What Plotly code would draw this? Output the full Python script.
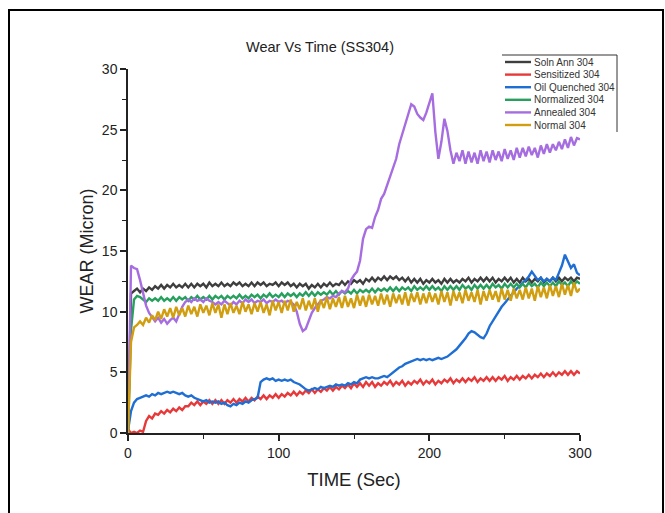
import plotly.graph_objects as go

# ---------------- data ----------------
TIME = list(range(0, 301, 2))

SERIES_NAMES = ["Soln Ann 304", "Sensitized 304", "Oil Quenched 304",
                "Normalized 304", "Annealed 304", "Normal 304"]
SERIES_COLORS = ["#3e3e3e", "#e8393a", "#1f6ed4", "#27a05e", "#a66de0", "#d19e10"]

SOLN_ANN = [
    0.0, 11.5, 11.7, 11.9, 11.6, 11.9, 11.7, 12.0, 11.8, 12.1,
    11.9, 12.2, 11.9, 12.2, 12.0, 12.3, 12.0, 12.2, 12.0, 12.3,
    12.0, 12.3, 12.0, 12.3, 12.1, 12.3, 12.0, 12.4, 12.1, 12.3,
    12.1, 12.4, 12.1, 12.3, 12.1, 12.4, 12.2, 12.4, 12.1, 12.3,
    12.1, 12.4, 12.1, 12.4, 12.2, 12.4, 12.1, 12.3, 12.2, 12.4,
    12.1, 12.4, 12.2, 12.4, 12.1, 12.3, 12.0, 12.3, 12.1, 12.3,
    11.9, 12.2, 12.0, 12.3, 12.0, 12.3, 12.1, 12.4, 12.1, 12.3,
    12.2, 12.5, 12.2, 12.5, 12.3, 12.6, 12.4, 12.6, 12.3, 12.7,
    12.5, 12.8, 12.5, 12.8, 12.6, 12.9, 12.6, 12.9, 12.7, 12.9,
    12.6, 12.8, 12.5, 12.8, 12.4, 12.7, 12.4, 12.7, 12.3, 12.6,
    12.4, 12.7, 12.4, 12.6, 12.3, 12.7, 12.4, 12.7, 12.4, 12.6,
    12.4, 12.7, 12.5, 12.8, 12.4, 12.7, 12.5, 12.8, 12.5, 12.8,
    12.5, 12.8, 12.4, 12.7, 12.5, 12.8, 12.5, 12.8, 12.4, 12.7,
    12.4, 12.8, 12.5, 12.7, 12.4, 12.7, 12.5, 12.8, 12.4, 12.7,
    12.5, 12.8, 12.5, 12.8, 12.5, 12.8, 12.6, 12.8, 12.5, 12.8,
    12.7]

SENSITIZED = [
    0.3, 0.0, 0.1, 0.0, 0.2, 0.1, 1.0, 1.4, 1.2, 1.6,
    1.5, 1.8, 1.6, 1.9, 1.7, 2.0, 1.8, 2.1, 1.9, 2.2,
    2.2, 2.5, 2.3, 2.6, 2.3, 2.6, 2.4, 2.7, 2.4, 2.7,
    2.4, 2.7, 2.4, 2.7, 2.5, 2.8, 2.5, 2.8, 2.6, 2.9,
    2.6, 2.9, 2.7, 3.0, 2.8, 3.1, 2.8, 3.1, 2.9, 3.2,
    2.9, 3.2, 3.0, 3.3, 3.1, 3.4, 3.1, 3.4, 3.2, 3.5,
    3.3, 3.6, 3.3, 3.6, 3.4, 3.7, 3.5, 3.8, 3.5, 3.8,
    3.6, 3.9, 3.7, 4.0, 3.7, 4.1, 3.8, 4.1, 3.8, 4.2,
    3.9, 4.2, 3.8, 4.1, 3.9, 4.2, 4.0, 4.3, 3.9, 4.2,
    4.0, 4.3, 3.9, 4.2, 4.0, 4.3, 4.1, 4.4, 4.0, 4.3,
    4.1, 4.4, 4.0, 4.3, 4.1, 4.4, 4.2, 4.5, 4.1, 4.4,
    4.2, 4.5, 4.2, 4.5, 4.3, 4.6, 4.2, 4.5, 4.3, 4.6,
    4.3, 4.6, 4.3, 4.6, 4.4, 4.7, 4.3, 4.6, 4.4, 4.7,
    4.4, 4.7, 4.5, 4.8, 4.5, 4.8, 4.6, 4.9, 4.6, 4.9,
    4.7, 5.0, 4.7, 5.0, 4.8, 5.1, 4.8, 5.1, 4.8, 5.1,
    4.9]

OIL_QUENCHED = [
    0.2, 1.8, 2.5, 2.8, 2.9, 3.0, 3.1, 3.0, 3.2, 3.1,
    3.3, 3.2, 3.3, 3.4, 3.3, 3.4, 3.3, 3.2, 3.3, 3.1,
    3.0, 3.1, 2.9, 2.8, 2.7, 2.6, 2.7, 2.5, 2.6, 2.5,
    2.6, 2.4, 2.5, 2.3, 2.2, 2.4, 2.3, 2.5, 2.4, 2.6,
    2.5, 2.7, 2.8, 2.9, 4.2, 4.4, 4.5, 4.4, 4.5, 4.3,
    4.4, 4.3, 4.4, 4.3, 4.4, 4.2, 4.1, 4.0, 3.8, 3.6,
    3.5, 3.6, 3.7, 3.6, 3.8, 3.7, 3.8, 3.9, 3.8, 4.0,
    3.9, 4.0, 3.9, 4.1, 4.0, 4.2, 4.1, 4.4, 4.5, 4.6,
    4.5, 4.6, 4.5, 4.5, 4.6, 4.7, 4.6, 4.8, 5.0, 5.2,
    5.4, 5.5, 5.7, 5.8, 5.9, 6.0, 6.1, 6.0, 6.1, 6.0,
    6.1, 6.0, 6.1, 6.2, 6.1, 6.2, 6.3, 6.5, 6.7, 6.9,
    7.2, 7.5, 7.8, 8.2, 8.4, 8.3, 8.1, 7.9, 7.8, 8.2,
    8.8, 9.2, 9.7, 10.0, 10.4, 10.7, 11.0, 11.3, 11.6, 11.9,
    12.1, 12.4, 12.6, 12.9, 13.3, 12.9, 12.6, 12.8, 12.5, 12.7,
    12.5, 12.8, 12.6, 13.2, 13.8, 14.7, 14.2, 13.6, 13.9, 13.2,
    13.0]

NORMALIZED = [
    0.0, 8.5, 11.0, 11.3, 11.2, 11.0, 10.8, 11.1, 10.9, 11.1,
    10.9, 11.2, 10.9, 11.1, 10.9, 11.2, 10.9, 11.2, 11.0, 11.2,
    10.9, 11.2, 11.0, 11.3, 11.0, 11.2, 11.0, 11.3, 11.0, 11.3,
    11.1, 11.3, 11.0, 11.3, 11.1, 11.3, 11.1, 11.4, 11.1, 11.3,
    11.1, 11.4, 11.2, 11.4, 11.1, 11.4, 11.2, 11.5, 11.2, 11.4,
    11.2, 11.5, 11.2, 11.5, 11.3, 11.5, 11.2, 11.5, 11.3, 11.6,
    11.3, 11.6, 11.3, 11.6, 11.4, 11.6, 11.4, 11.7, 11.4, 11.7,
    11.4, 11.7, 11.5, 11.7, 11.5, 11.8, 11.5, 11.8, 11.6, 11.8,
    11.6, 11.9, 11.6, 11.9, 11.7, 11.9, 11.7, 12.0, 11.7, 12.0,
    11.7, 12.0, 11.8, 12.0, 11.7, 12.1, 11.8, 12.0, 11.8, 12.1,
    11.8, 12.1, 11.8, 12.0, 11.7, 12.1, 11.8, 12.1, 11.8, 12.1,
    11.8, 12.2, 11.9, 12.1, 11.8, 12.2, 11.9, 12.2, 11.9, 12.2,
    11.9, 12.3, 12.0, 12.2, 11.9, 12.3, 12.0, 12.3, 12.0, 12.3,
    12.0, 12.3, 12.0, 12.4, 12.1, 12.3, 12.0, 12.4, 12.1, 12.4,
    12.1, 12.4, 12.1, 12.5, 12.2, 12.4, 12.1, 12.5, 12.2, 12.5,
    12.3]

ANNEALED = [
    0.0, 13.8, 13.6, 13.5, 12.6, 11.5, 10.5, 9.9, 9.5, 9.2,
    9.5, 9.1, 9.4, 9.0, 9.3, 9.5, 9.2, 9.8, 10.4, 10.8,
    11.0, 10.8, 11.1, 10.9, 11.0, 10.8, 11.1, 10.9, 10.8, 10.6,
    10.8, 10.6, 10.9, 10.7, 10.5, 10.8, 10.6, 10.9, 10.7, 11.0,
    10.8, 11.0, 10.7, 10.9, 10.8, 11.0, 10.7, 10.9, 10.8, 11.0,
    10.8, 10.9, 10.7, 10.9, 10.8, 10.6, 10.0, 9.0, 8.4, 8.6,
    9.3, 9.9, 10.3, 10.6, 10.9, 11.0, 11.2, 11.1, 11.3, 11.2,
    11.5, 11.7, 11.6, 11.9, 12.6, 13.0, 13.3, 14.2, 16.0, 16.8,
    17.0, 16.9, 17.8, 18.4, 19.3, 19.7, 20.4, 21.2, 21.9, 22.6,
    23.8, 24.6, 25.5, 26.3, 27.1, 26.9, 26.3, 26.0, 25.8, 26.4,
    27.2, 28.0, 24.8, 22.6, 24.0, 25.9, 24.9, 23.3, 22.2, 23.1,
    22.4, 23.3, 22.2, 23.2, 22.3, 23.1, 22.2, 23.3, 22.4, 23.2,
    22.3, 23.3, 22.5, 23.2, 22.4, 23.4, 22.6, 23.3, 22.5, 23.5,
    22.7, 23.5, 22.8, 23.6, 22.9, 23.5, 22.7, 23.7, 23.0, 23.8,
    23.1, 23.8, 23.3, 24.0, 23.4, 24.2, 23.5, 24.4, 23.7, 24.3,
    24.2]

NORMAL = [
    0.0, 7.5, 8.7, 8.9, 9.2, 8.9, 9.5, 9.1, 9.7, 9.3,
    10.0, 9.4, 10.2, 9.6, 10.3, 9.5, 10.4, 9.7, 10.3, 9.6,
    10.5, 9.8, 10.4, 9.6, 10.6, 9.9, 10.5, 9.7, 10.7, 9.9,
    10.6, 9.5, 10.6, 9.8, 10.7, 9.9, 10.5, 9.8, 10.8, 10.0,
    10.6, 9.8, 10.7, 10.0, 10.8, 9.9, 10.6, 9.7, 10.9, 10.1,
    10.8, 9.9, 10.9, 10.1, 11.0, 10.0, 10.8, 10.2, 11.1, 10.1,
    10.9, 10.2, 11.1, 10.0, 11.0, 10.3, 11.2, 10.2, 11.1, 10.4,
    11.2, 10.3, 11.3, 10.4, 11.1, 10.3, 11.4, 10.5, 11.3, 10.4,
    11.4, 10.6, 11.3, 10.5, 11.5, 10.6, 11.4, 10.4, 11.5, 10.7,
    11.4, 10.6, 11.6, 10.5, 11.5, 10.8, 11.6, 10.6, 11.5, 10.7,
    11.6, 10.8, 11.5, 10.6, 11.7, 10.8, 11.6, 10.5, 11.7, 10.9,
    11.6, 10.7, 11.8, 10.9, 11.6, 10.8, 11.8, 10.6, 11.7, 10.9,
    11.8, 11.0, 11.7, 10.8, 11.9, 11.0, 11.8, 10.9, 11.9, 11.1,
    11.8, 11.0, 12.0, 11.1, 11.9, 10.9, 12.1, 11.2, 12.0, 11.1,
    12.2, 11.3, 12.1, 11.2, 12.3, 11.4, 12.2, 11.3, 12.4, 11.6,
    11.9]

X_TICKS = [0, 100, 200, 300]
Y_TICKS = [0, 5, 10, 15, 20, 25, 30]

SERIES_VALUES = [SOLN_ANN, SENSITIZED, OIL_QUENCHED, NORMALIZED, ANNEALED, NORMAL]

# ---------------- figure ----------------
W, H = 665, 513
ML, MR, MT, MB = 128, 85, 69, 80
PW, PH = W - ML - MR, H - MT - MB

def px_x(p):
    """page pixel x -> paper x"""
    return (p - ML) / PW

def px_y(p):
    """page pixel y -> paper y"""
    return (H - MB - p) / PH

FONT = "Liberation Sans, Arial, sans-serif"

fig = go.Figure()
for name, color, vals in zip(SERIES_NAMES, SERIES_COLORS, SERIES_VALUES):
    fig.add_trace(go.Scatter(x=TIME, y=vals, mode="lines", name=name,
                             line=dict(color=color, width=2.4),
                             showlegend=False))

axis_common = dict(showline=True, linecolor="#222222", linewidth=1.5,
                   ticks="outside", tickwidth=1.5, ticklen=6, tickcolor="#222222",
                   showgrid=False, zeroline=False,
                   tickfont=dict(family=FONT, size=14, color="#222222"))

fig.update_layout(
    width=W, height=H, autosize=False,
    margin=dict(l=ML, r=MR, t=MT, b=MB),
    paper_bgcolor="white", plot_bgcolor="white",
    font=dict(family=FONT, color="#222222"),
    title=dict(text="Wear Vs Time (SS304)", xref="container", yref="container",
               x=320 / W, y=1 - 47 / H, xanchor="center", yanchor="middle",
               font=dict(family=FONT, size=14.5, color="#222222")),
    xaxis=dict(range=[0, 300], tickvals=X_TICKS,
               title=dict(text="TIME (Sec)", font=dict(family=FONT, size=18.5), standoff=14),
               minor=dict(ticks="outside", ticklen=4, tickwidth=1, tickcolor="#222222",
                          tickvals=[50, 150, 250]),
               **axis_common),
    yaxis=dict(range=[0, 30], tickvals=Y_TICKS,
               title=dict(text="WEAR (Micron)", font=dict(family=FONT, size=18), standoff=4),
               minor=dict(ticks="outside", ticklen=4, tickwidth=1, tickcolor="#222222",
                          tickvals=[2.5, 7.5, 12.5, 17.5, 22.5, 27.5]),
               **axis_common),
)

# outer frame
fig.add_shape(type="rect", xref="paper", yref="paper",
              x0=px_x(9), x1=px_x(663), y0=px_y(540), y1=px_y(10),
              line=dict(color="black", width=2))

# legend (compact, Origin-style)
LEG_TOP, LEG_STEP = 62, 12.6
for i, (name, color) in enumerate(zip(SERIES_NAMES, SERIES_COLORS)):
    yy = px_y(LEG_TOP + i * LEG_STEP)
    fig.add_shape(type="line", xref="paper", yref="paper",
                  x0=px_x(505), x1=px_x(531), y0=yy, y1=yy,
                  line=dict(color=color, width=2.4))
    fig.add_annotation(xref="paper", yref="paper", x=px_x(532), y=yy,
                       text=name, showarrow=False, xanchor="left", yanchor="middle",
                       font=dict(family=FONT, size=10, color="#333333"))
fig.add_shape(type="line", xref="paper", yref="paper",
              x0=px_x(502), x1=px_x(617), y0=px_y(55), y1=px_y(55),
              line=dict(color="#333333", width=1))
fig.add_shape(type="line", xref="paper", yref="paper",
              x0=px_x(617), x1=px_x(617), y0=px_y(55), y1=px_y(132),
              line=dict(color="#333333", width=1))

fig.write_html("out.html", config={"displayModeBar": False},
               post_script="document.body.style.margin='0';")
